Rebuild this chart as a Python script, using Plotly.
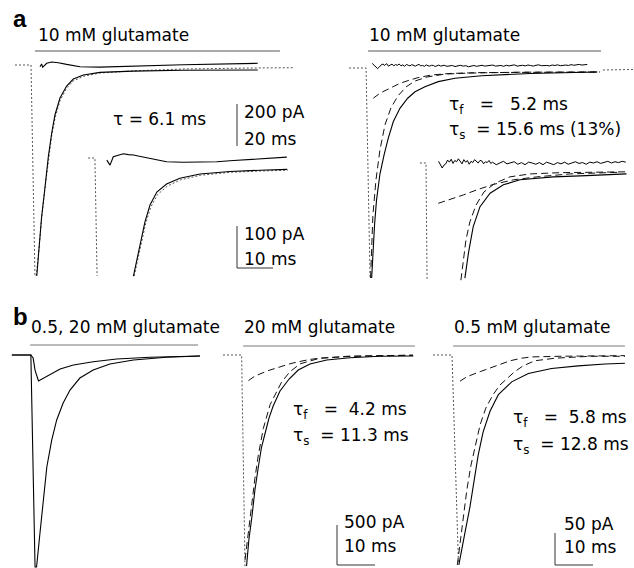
import plotly.graph_objects as go

W, H = 634, 568
FONT = "DejaVu Sans, Liberation Sans, Arial, sans-serif"

# ======================= DATA (time in ms, current in pA) =======================
# ---- panel a, left: 10 mM glutamate, main traces ----
aL_resp_t = [3.2, 4.6, 5.9, 7.8, 9.6, 11.5, 13.3, 16.1, 19.8, 23.5, 29.1, 38.3, 56.7, 84.4, 126]
aL_resp_i = [-1005, -867, -724, -581, -438, -324, -238, -157, -100, -67, -48, -35, -29, -25, -24]
aL_fit_t = [-8.9, 0, 2.2, 3.0, 4.4, 5.8, 7.7, 9.6, 11.5, 13.4, 16.2, 19.8, 23.5, 29.1, 38.3, 56.7, 84.4, 126, 145.6]
aL_fit_i = [0, 0, -1005, -1000, -880, -735, -590, -450, -338, -250, -168, -110, -76, -54, -38, -28, -19, -14, -13]
aL_res_t = [5.0, 5.9, 6.5, 8.7, 11.5, 15.2, 19.8, 27.2, 38.3, 56.7, 84.4, 126]
aL_res_i = [-8, 5, -11, 8, 14, 11, 3, -8, -10, -5, 1, 8]
# ---- panel a, left: inset (expanded) ----
aLi_resp_t = [10.4, 11.4, 12.5, 13.6, 15.0, 16.9, 19.6, 23.3, 28.9, 37.2, 45.6, 53.1]
aLi_resp_i = [-281, -243, -195, -152, -112, -81, -62, -48, -38, -32, -29, -27]
aLi_fit_t = [-2.2, -0.3, 0.3, None, 10.6, 11.6, 12.7, 13.8, 15.2, 17.1, 19.8, 23.5, 29.1, 37.4, 45.8, 53.3]
aLi_fit_i = [0, 0, -281, None, -281, -243, -197, -156, -117, -87, -67, -52, -41, -34, -31, -29]
aLi_res_t = [3.0, 3.9, 4.8, 6.2, 7.6, 9.0, 10.4, 12.7, 15.0, 17.3, 19.6, 24.2, 28.9, 33.5, 38.2, 42.8, 47.9, 53.0]
aLi_res_i = [-5, -17, 3, 6, 10, 8, 7, 3, -1, -5, -9, -10, -9, -9, -6, -3, 0, 2]

# ---- panel a, right: 10 mM glutamate, biexponential fit ----
aR_resp_t = [3.7, 4.4, 5.3, 6.4, 7.5, 8.3, 10.6, 12.9, 15.7, 19.4, 23.7, 27.8, 33.3, 40.7, 50, 64.8, 91.7, 128.9]
aR_resp_i = [-1000, -867, -748, -629, -557, -505, -414, -335, -256, -192, -144, -113, -89, -65, -49, -37, -26, -19]
aR_tip_t = [-8.9, 0.6, 2.8, None, 132.2, 148.9]
aR_tip_i = [0, 0, -1000, None, -9.5, -7]
aR_fast_t = [3.1, 3.6, 4.4, 6.1, 8.3, 11.1, 14.4, 18.3, 22.8, 27.8, 34.4, 44.4, 58.3, 86, 130.6]
aR_fast_i = [-1000, -867, -700, -533, -390, -271, -190, -133, -90, -62, -43, -29, -24, -20, -19]
aR_slow_t = [4.6, 8.3, 15.6, 19.4, 25, 29.4, 37.2, 47.2, 63.9, 97.2, 130.6]
aR_slow_i = [-144, -120, -89, -73, -57, -46, -33, -26, -22, -20, -19]
aR_res_t = [4, 5, 6, 7, 8, 9, 10, 11, 12, 13, 14, 15, 16, 17, 18, 19, 20, 21, 22, 23,
            24, 25, 26, 27, 28, 29, 30, 31, 32, 33, 34, 35, 36, 37, 38, 39, 40, 41, 42, 43,
            44, 45.5, 47, 48.5, 50, 51.5, 53, 54.5, 56, 57.5, 59, 60.5, 62, 63.5, 65, 66.5, 68, 69.5,
            71, 72.5, 74, 75.5, 77, 78.5, 80, 81.5, 83, 84.5, 86, 87.5, 89, 90.5, 92, 93.5, 95, 96.5,
            98, 99.5, 101, 102.5, 104, 105.5, 107, 108.5, 110, 111.5, 113, 114.5, 116, 117.5, 119,
            120.5, 122, 123.5]
aR_res_i = [22, 14, 6, -3, 5, 15, 19, 12, 21, 9, 14, 18, 11, 16, 13, 19, 10, 15, 8, 17,
            13, 10, 16, 11, 9, 14, 17, 10, 12, 8, 15, 11, 9, 13, 12, 7, 12, 14, 9, 10,
            13, 8, 11, 12, 7, 10, 13, 9, 11, 6, 10, 12, 8, 11, 13, 9, 10, 12,
            14, 9, 11, 12, 8, 13, 10, 12, 15, 9, 11, 13, 10, 14, 12, 9, 13, 15,
            11, 13, 12, 10, 14, 12, 15, 11, 13, 14, 12, 16, 13, 15, 17,
            14, 15, 17]
# ---- panel a, right: inset ----
aRi_resp_t = [10.8, 11.8, 13.1, 15.0, 17.8, 21.5, 26.1, 35.4, 44.6, 55.7]
aRi_resp_i = [-274, -214, -152, -104, -72, -52, -40, -33, -30, -26]
aRi_tip_t = [-1.7, 0, 0.3]
aRi_tip_i = [0, 0, -279]
aRi_fast_t = [9.7, 10.3, 11.1, 12.2, 13.9, 16.1, 19.2, 23.3, 28.9, 37.2, 48.3, 55.8]
aRi_fast_i = [-279, -231, -183, -140, -100, -69, -48, -33, -26, -23, -21, -21]
aRi_slow_t = [3.4, 7.1, 10.4, 14.1, 18.7, 24.3, 30.8, 40, 49.3, 53.9]
aRi_slow_i = [-96, -86, -76, -64, -51, -40, -33, -26, -23, -22]
aRi_res_t = [3.5, 4.0, 4.5, 5.0, 5.5, 6.0, 6.5, 7.0, 7.5, 8.0, 8.5, 9.0, 9.5, 10.0, 10.5, 11.0, 11.5, 12.0, 12.5,
             13.0, 13.5, 14.0, 14.5, 15.0, 15.5, 16.0, 16.5, 17.0, 17.5, 18.0, 18.5, 19.5, 20.5, 21.5, 22.5,
             23.5, 24.5, 25.5, 26.5, 27.5, 28.5, 29.5, 30.5, 31.5, 32.5, 33.5, 34.5, 35.5, 36.5, 37.5, 38.5,
             39.5, 40.5, 41.5, 42.5, 43.5, 44.5, 45.5, 46.5, 47.5, 48.5, 49.5, 50.5, 51.5, 52.5, 53.5, 54.5,
             55.5]
aRi_res_i = [4, -6, -12, -5, -2, 7, 2, 9, -1, 6, 3, 10, 5, -2, 8, 2, 6, -3, 4,
             1, 8, 3, 0, 6, 5, -2, 3, 1, 6, -1, 2, -4, 1, 4, -2,
             0, 3, -3, 1, -4, 2, 0, -3, 1, -4, 2, -1, -4, 1, -2, 2,
             -3, 0, 3, -1, 1, -3, 2, 0, 3, -1, 2, 4, 0, 3, 1, 4,
             2]

# ---- panel b, left: 0.5 and 20 mM glutamate superimposed ----
bL_20_t = [-5.3, -0.3, 0.8, 1.2, 2.1, 3.0, 3.9, 5.2, 6.5, 8.2, 10, 12.6, 16.1, 20.5, 26.7, 35.4, 44.2]
bL_20_i = [0, 0, -2650, -2650, -2225, -1812, -1400, -1062, -812, -600, -438, -288, -188, -112, -62, -29, -12]
bL_05_t = [-5.3, -0.3, 0.3, 0.8, 1.7, 3.0, 4.7, 7.4, 10.9, 16.1, 22.3, 31, 44.2]
bL_05_i = [0, 0, -38, -188, -325, -291, -238, -175, -125, -84, -50, -29, -12]
# ---- panel b, middle: 20 mM ----
bM_resp_t = [1.2, 1.8, 2.6, 3.4, 4.3, 5.1, 6.1, 7.1, 8.2, 10, 12.4, 14.8, 17.9, 22.3, 28.4, 36.3, 45.1]
bM_resp_i = [-2638, -2312, -2025, -1688, -1400, -1162, -975, -788, -638, -450, -300, -188, -112, -62, -34, -16, -12]
bM_tip_t = [-5, -0.1, 0.8]
bM_tip_i = [0, 0, -2662]
bM_fast_t = [0.8, 1.7, 2.6, 3.4, 4.3, 5.6, 7.4, 10.4, 12.6, 15.3, 20.5, 28.4, 45]
bM_fast_i = [-2562, -2200, -1850, -1540, -1250, -920, -620, -340, -210, -110, -40, -14, -2]
bM_slow_t = [1.7, 3.4, 6.9, 9.1, 12.6, 14.8, 17.9, 20.5, 28.4, 45]
bM_slow_i = [-320, -263, -195, -160, -110, -85, -55, -40, -18, -3]
# ---- panel b, right: 0.5 mM ----
bR_resp_t = [1.8, 2.6, 3.4, 4.7, 5.8, 6.9, 8.2, 10, 12.2, 15.7, 20.1, 26.2, 33.2, 40.3, 45.5]
bR_resp_i = [-328, -305, -278, -238, -198, -156, -120, -88, -62, -42, -29, -21, -17, -14, -13]
bR_tip_t = [-5, 0, 1.7]
bR_tip_i = [0, 0, -325]
bR_fast_t = [1.4, 2.2, 3.0, 3.9, 5.0, 6.1, 7.4, 8.9, 10.8, 12.6, 14.5, 16.3, 18.7, 21.8, 27.1, 36.3, 45.5]
bR_fast_i = [-328, -289, -250, -211, -172, -141, -109, -83, -62, -47, -36, -27, -17, -9, -5, -2, -2]
bR_slow_t = [2.1, 3.9, 7.4, 9.6, 13.1, 15.3, 18.3, 21, 28.4, 45.5]
bR_slow_i = [-41, -34, -26, -21, -13, -9, -5, -3, -2, -1]

# glutamate application windows (ms) and labels
app_windows = {"aL": [2.2, 138.3], "aR": [1.7, 131.1], "bL": [-0.5, 43.7], "bM": [0.3, 45.5], "bR": [0.3, 45.5]}
app_labels = {"aL": "10 mM glutamate", "aR": "10 mM glutamate", "bL": "0.5, 20 mM glutamate",
              "bM": "20 mM glutamate", "bR": "0.5 mM glutamate"}
# fitted time constants (ms)
tau_aL = 6.1
tau_aR = [5.2, 15.6]
slow_frac_aR = 13
tau_bM = [4.2, 11.3]
tau_bR = [5.8, 12.8]
# scale bars (pA, ms)
scale_pA = {"aL": 200, "aLi": 100, "bM": 500, "bR": 50}
scale_ms = {"aL": 20, "aLi": 10, "bM": 10, "bR": 10}

# ======================= LAYOUT (pixel geometry of each sub-panel) =======================
# origin pixel (t=0, I=0) and scale (px per ms, px per pA)
PANELS = {
    "aL": (31, 65, 1.8, 0.21),
    "aLi": (96, 158, 3.6, 0.42),
    "aR": (365, 68, 1.8, 0.21),
    "aRi": (426, 163, 3.6, 0.42),
    "bL": (32, 355, 3.8, 0.08),
    "bM": (242, 355, 3.8, 0.08),
    "bR": (452, 355, 3.8, 0.64),
}
ORDER = list(PANELS.keys())


def axn(p):
    n = ORDER.index(p) + 1
    s = "" if n == 1 else str(n)
    return "x" + s, "y" + s


def to_t(p, px):
    x0, y0, kx, ky = PANELS[p]
    return (px - x0) / kx


def to_i(p, py):
    x0, y0, kx, ky = PANELS[p]
    return -(py - y0) / ky


fig = go.Figure()


def line(p, t, i, color="black", width=1.0, dash="solid"):
    xa, ya = axn(p)
    fig.add_trace(go.Scatter(x=t, y=i, xaxis=xa, yaxis=ya, mode="lines",
                             line=dict(color=color, width=width, dash=dash),
                             hoverinfo="skip", showlegend=False, connectgaps=False))


DOT = dict(color="#555555", width=1, dash="2px,2px")
DASH = dict(color="#111111", width=1, dash="7px,4px")

# panel a left
line("aL", aL_fit_t, aL_fit_i, **DOT)
line("aL", aL_resp_t, aL_resp_i, width=1.1)
line("aL", aL_res_t, aL_res_i, width=1.1)
line("aLi", aLi_fit_t, aLi_fit_i, **DOT)
line("aLi", aLi_resp_t, aLi_resp_i, width=1.1)
line("aLi", aLi_res_t, aLi_res_i, width=1.1)
# panel a right
line("aR", aR_tip_t, aR_tip_i, **DOT)
line("aR", aR_fast_t, aR_fast_i, **DASH)
line("aR", aR_slow_t, aR_slow_i, **DASH)
line("aR", aR_resp_t, aR_resp_i, width=1.1)
line("aR", aR_res_t, aR_res_i, width=1.0)
line("aRi", aRi_tip_t, aRi_tip_i, **DOT)
line("aRi", aRi_fast_t, aRi_fast_i, **DASH)
line("aRi", aRi_slow_t, aRi_slow_i, **DASH)
line("aRi", aRi_resp_t, aRi_resp_i, width=1.1)
line("aRi", aRi_res_t, aRi_res_i, width=1.0)
# panel b
line("bL", bL_05_t, bL_05_i, width=1.1)
line("bL", bL_20_t, bL_20_i, width=1.1)
line("bM", bM_tip_t, bM_tip_i, **DOT)
line("bM", bM_fast_t, bM_fast_i, **DASH)
line("bM", bM_slow_t, bM_slow_i, **DASH)
line("bM", bM_resp_t, bM_resp_i, width=1.1)
line("bR", bR_tip_t, bR_tip_i, **DOT)
line("bR", bR_fast_t, bR_fast_i, **DASH)
line("bR", bR_slow_t, bR_slow_i, **DASH)
line("bR", bR_resp_t, bR_resp_i, width=1.1)

# application bars (pixel row of each bar)
app_row = {"aL": 51, "aR": 51, "bL": 345, "bM": 346, "bR": 346}
app_col = {"aL": "#555555", "aR": "#555555", "bL": "#777777", "bM": "#777777", "bR": "#777777"}
for p, win in app_windows.items():
    lvl = to_i(p, app_row[p])
    line(p, win, [lvl, lvl], color=app_col[p], width=1)

# scale bars: corner pixel, draw horizontal?
sb_corner = {"aL": (237, 146, False), "aLi": (237, 268, True), "bM": (337, 565, True), "bR": (555, 565, True)}
for p, (cx, cy, horiz) in sb_corner.items():
    t0, i0 = to_t(p, cx), to_i(p, cy)
    if horiz:
        line(p, [t0, t0, t0 + scale_ms[p]], [i0 + scale_pA[p], i0, i0], color="#333333", width=1)
    else:
        line(p, [t0, t0], [i0 + scale_pA[p], i0], color="#333333", width=1)

# axes
lay = {}
for k, p in enumerate(ORDER):
    x0, y0, kx, ky = PANELS[p]
    s = "" if k == 0 else str(k + 1)
    lay["xaxis" + s] = dict(domain=[0, 1], range=[-x0 / kx, (W - x0) / kx], visible=False,
                            fixedrange=True, anchor="y" + s)
    lay["yaxis" + s] = dict(domain=[0, 1], range=[(y0 - H) / ky, y0 / ky], visible=False,
                            fixedrange=True, anchor="x" + s)

# text annotations: (text, left px, mid px, size, bold)
SZ = 17
NB = "\u00a0"
TF = f"τ<sub>f</sub>{NB}{NB}{NB}={NB}{NB}"
TS = f"τ<sub>s</sub>{NB}{NB}={NB}"
texts = [
    ("a", 11, 18.4, 24, True),
    ("b", 11, 316.7, 24, True),
    (app_labels["aL"], 36, 34.6, SZ, False),
    (app_labels["aR"], 367, 34.6, SZ, False),
    (app_labels["bL"], 29, 326.6, SZ, False),
    (app_labels["bM"], 242, 326.6, SZ, False),
    (app_labels["bR"], 452, 326.6, SZ, False),
    (f"τ = {tau_aL} ms", 111, 118.6, SZ, False),
    (f"{scale_pA['aL']} pA", 242, 111.6, SZ, False),
    (f"{scale_ms['aL']} ms", 242, 138.6, SZ, False),
    (f"{scale_pA['aLi']} pA", 242, 233.6, SZ, False),
    (f"{scale_ms['aLi']} ms", 242, 258.6, SZ, False),
    (f"{TF}{NB}{tau_aR[0]} ms", 447, 105, SZ, False),
    (f"{TS}{tau_aR[1]} ms ({slow_frac_aR}%)", 447, 130, SZ, False),
    (f"{TF}{tau_bM[0]} ms", 291, 410, SZ, False),
    (f"{TS}{tau_bM[1]} ms", 291, 436.7, SZ, False),
    (f"{TF}{tau_bR[0]} ms", 511, 418, SZ, False),
    (f"{TS}{tau_bR[1]} ms", 511, 445, SZ, False),
    (f"{scale_pA['bM']} pA", 342, 521.6, SZ, False),
    (f"{scale_ms['bM']} ms", 342, 545.6, SZ, False),
    (f"{scale_pA['bR']} pA", 562, 523.6, SZ, False),
    (f"{scale_ms['bR']} ms", 562, 546.6, SZ, False),
]
ann = []
for txt, px, py, sz, bold in texts:
    ann.append(dict(text=f"<b>{txt}</b>" if bold else txt, x=px / W, y=1 - py / H, xref="paper", yref="paper",
                    xanchor="left", yanchor="middle", showarrow=False,
                    font=dict(family=FONT if not bold else "Liberation Sans, Arial, sans-serif",
                              size=sz, color="black")))

fig.update_layout(width=W, height=H, margin=dict(l=0, r=0, t=0, b=0),
                  paper_bgcolor="white", plot_bgcolor="rgba(0,0,0,0)",
                  annotations=ann, showlegend=False, **lay)
fig.write_html("out.html", config={"displayModeBar": False, "staticPlot": True},
               post_script="document.body.style.margin='0px';document.body.style.overflow='hidden';")
